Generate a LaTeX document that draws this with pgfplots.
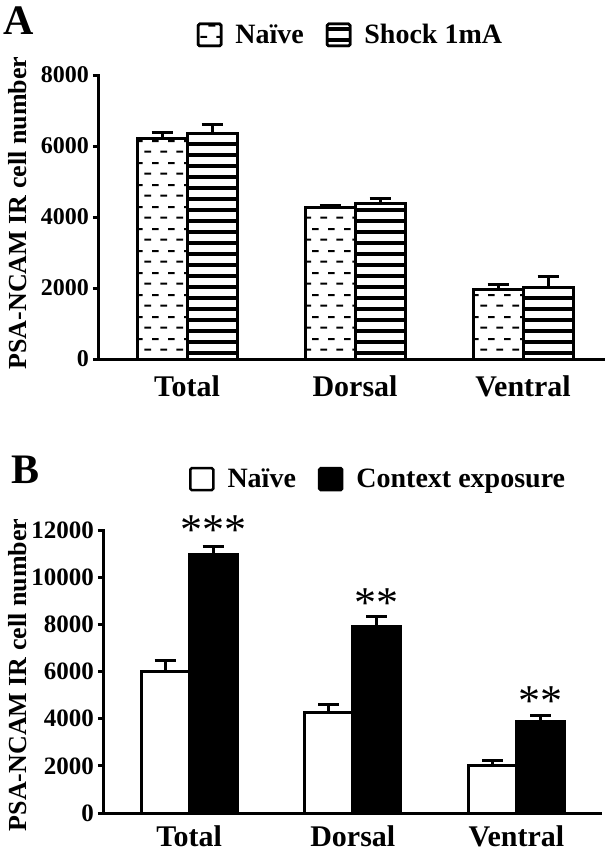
\documentclass[border=0pt]{standalone}
\usepackage{fontspec}
\setmainfont{Liberation Serif}
\usepackage{pgfplots}
\pgfplotsset{compat=1.18}
\usetikzlibrary{patterns}

\pgfdeclarepatternformonly{naivedash}{\pgfpoint{0pt}{0pt}}{\pgfpoint{16pt}{21.6pt}}{\pgfpoint{16pt}{21.6pt}}{
  \pgfsetlinewidth{2pt}
  \pgfpathmoveto{\pgfpoint{0.5pt}{5.4pt}}\pgfpathlineto{\pgfpoint{7.5pt}{5.4pt}}
  \pgfpathmoveto{\pgfpoint{8.5pt}{16.2pt}}\pgfpathlineto{\pgfpoint{15.5pt}{16.2pt}}
  \pgfusepath{stroke}
}
\pgfdeclarepatternformonly{shockstripe}{\pgfpoint{0pt}{0pt}}{\pgfpoint{1000pt}{10.8pt}}{\pgfpoint{1000pt}{10.8pt}}{
  \pgfpathrectangle{\pgfpoint{0pt}{0pt}}{\pgfpoint{1000pt}{4pt}}
  \pgfusepath{fill}
}

\pgfplotstableread{
x  naive  naiveerr  shock  shockerr
0  6220   160       6360   250
1  4270   60        4370   140
2  1945   140       2020   300
}\tableA

\pgfplotstableread{
x  naive  naiveerr  ctx    ctxerr
0  5990   480       10980  330
1  4250   360       7900   450
2  2000   240       3900   240
}\tableB

\pgfplotsset{
  panel/.style={
    scale only axis,
    axis lines=left,
    axis line style={-, line width=3pt, line cap=rect},
    ybar=0pt,
    ymin=0,
    xtick=data,
    xticklabels={Total,Dorsal,Ventral},
    xtick style={draw=none},
    ytick style={line width=3pt, black},
    tick align=outside,
    major tick length=6pt,
    scaled y ticks=false,
    /pgf/number format/1000 sep={},
    /pgf/number format/assume math mode=true,
    yticklabel style={font=\fontsize{24}{24}\selectfont\bfseries, inner sep=0pt, xshift=-4pt},
    xticklabel style={font=\fontsize{30}{30}\selectfont\bfseries, inner sep=0pt, anchor=north, yshift=-10pt},
    ylabel={PSA-NCAM IR cell number},
    ylabel style={font=\fontsize{26}{26}\selectfont\bfseries, inner sep=0pt, anchor=south, rotate=0},
    legend columns=2,
    legend style={draw=none, fill=none, inner sep=0pt, font=\fontsize{28}{28}\selectfont\bfseries,
      /tikz/every even column/.append style={column sep=22pt},
      nodes={inner sep=0pt}},
    legend image code/.code={\draw[#1, line width=2.5pt, rounded corners=1.5pt] (0pt,-11pt) rectangle (23pt,11pt);},
    legend cell align=left,
    clip=false,
    error bars/y dir=plus,
    error bars/y explicit,
    error bars/error bar style={line width=3pt, black},
    error bars/error mark options={rotate=90, mark size=10.5pt, line width=3pt, black},
  },
}

\begin{document}
\begin{tikzpicture}
\useasboundingbox (0pt,0pt) rectangle (608pt,-852pt);

% Panel A
\begin{axis}[panel,
  at={(99pt,-359pt)}, anchor=south west,
  width=504pt, height=284pt,
  xmin=-0.524, xmax=2.476,
  ymax=8000, ytick={0,2000,4000,6000,8000},
  bar width=50pt,
  ylabel style={at={(axis description cs:-0.143,0.514)}},
  legend style={at={(axis description cs:0.194,1.141)}, anchor=west},
]
\addplot[draw=black, line width=3pt, fill=white, postaction={pattern=naivedash, pattern color=black}]
  table[x=x, y=naive, y error=naiveerr] {\tableA};
\addlegendentry{\hspace{13pt}Naïve}
\addplot[draw=black, line width=3pt, fill=white, postaction={pattern=shockstripe, pattern color=black}]
  table[x=x, y=shock, y error=shockerr] {\tableA};
\addlegendentry{\hspace{13pt}Shock 1mA}
\end{axis}

% Panel B
\begin{axis}[panel,
  at={(104pt,-813pt)}, anchor=south west,
  width=496pt, height=283pt,
  xmin=-0.52, xmax=2.51,
  ymax=12000, ytick={0,2000,4000,6000,8000,10000,12000},
  bar width=48pt,
  yticklabel style={font=\fontsize{25}{25}\selectfont\bfseries},
  xticklabel style={yshift=4pt},
  ylabel style={at={(axis description cs:-0.155,0.488)}},
  legend style={at={(axis description cs:0.171,1.180)}, anchor=west},
]
\addplot[draw=black, line width=3pt, fill=white]
  table[x=x, y=naive, y error=naiveerr] {\tableB};
\addlegendentry{\hspace{13pt}Naïve}
\addplot[draw=black, line width=3pt, fill=black]
  table[x=x, y=ctx, y error=ctxerr] {\tableB};
\addlegendentry{\hspace{13pt}Context exposure}
\node[font=\fontsize{44}{44}\selectfont, inner sep=0pt] at (axis cs:0.147,12000) {***};
\node[font=\fontsize{44}{44}\selectfont, inner sep=0pt] at (axis cs:1.147,8900) {**};
\node[font=\fontsize{44}{44}\selectfont, inner sep=0pt] at (axis cs:2.147,4750) {**};
\end{axis}

\node[font=\fontsize{42}{42}\selectfont\bfseries, inner sep=0pt] at (18.5pt,-20.5pt) {A};
\node[font=\fontsize{42}{42}\selectfont\bfseries, inner sep=0pt] at (26pt,-470pt) {B};
\end{tikzpicture}
\end{document}
